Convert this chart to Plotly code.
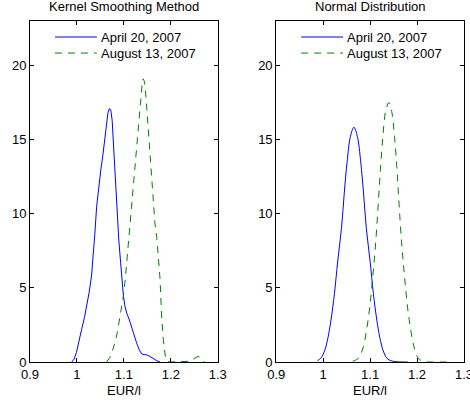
import plotly.graph_objects as go

# Kernel density estimates of the EUR/l price
kern_apr_x = [0.989, 0.994, 0.999, 1.005, 1.010, 1.016, 1.021, 1.026, 1.031, 1.035,
              1.038, 1.042, 1.047, 1.051, 1.055, 1.059, 1.063, 1.066, 1.069, 1.072,
              1.075, 1.079, 1.084, 1.089, 1.093, 1.096, 1.099, 1.102, 1.106, 1.111,
              1.116, 1.121, 1.127, 1.133, 1.138, 1.143, 1.148, 1.153, 1.159, 1.165,
              1.170, 1.177]
kern_apr_y = [0.0, 0.2, 0.65, 1.4, 2.2, 3.0, 3.8, 4.7, 5.8, 7.2,
              8.6, 10.5, 12.1, 13.0, 13.9, 15.0, 16.1, 16.8, 17.1, 17.0,
              16.3, 13.9, 11.2, 8.3, 6.7, 5.4, 4.45, 3.8, 3.3, 2.9,
              2.4, 1.8, 1.3, 0.8, 0.54, 0.5, 0.49, 0.42, 0.3, 0.15,
              0.09, 0.0]

kern_aug_x = [1.063, 1.066, 1.070, 1.075, 1.081, 1.086, 1.091, 1.095, 1.099, 1.103,
              1.106, 1.109, 1.112, 1.116, 1.120, 1.124, 1.127, 1.132, 1.136, 1.139,
              1.141, 1.144, 1.147, 1.152, 1.157, 1.162, 1.166, 1.170, 1.174, 1.177,
              1.180, 1.184, 1.189, 1.193, 1.198, 1.233, 1.240, 1.245, 1.252, 1.258,
              1.263, 1.268, 1.272]
kern_aug_y = [0.0, 0.1, 0.3, 0.7, 1.3, 2.0, 2.9, 3.6, 4.45, 5.6,
              6.7, 7.8, 8.8, 10.2, 11.6, 13.1, 14.3, 16.1, 17.9, 18.8,
              19.1, 18.9, 17.9, 15.6, 13.2, 10.7, 9.4, 8.4, 6.9, 5.6,
              3.3, 1.5, 0.2, 0.02, 0.0, 0.0, 0.05, 0.15, 0.3, 0.38,
              0.3, 0.12, 0.0]

# Fitted normal densities
norm_apr_x = [0.988, 0.995, 1.003, 1.010, 1.017, 1.024, 1.031, 1.039, 1.045, 1.051,
              1.058, 1.0655, 1.073, 1.080, 1.086, 1.092, 1.100, 1.107, 1.114, 1.121,
              1.128, 1.136, 1.145, 1.155, 1.168, 1.180]
norm_apr_y = [0.1, 0.25, 0.75, 1.6, 2.9, 4.6, 6.8, 9.0, 11.4, 13.5,
              15.2, 15.83, 15.2, 13.5, 11.4, 9.0, 6.8, 4.6, 2.9, 1.6,
              0.75, 0.25, 0.08, 0.02, 0.0, 0.0]

norm_aug_x = [1.063, 1.069, 1.076, 1.085, 1.092, 1.099, 1.106, 1.112, 1.118, 1.122,
              1.127, 1.133, 1.140, 1.146, 1.152, 1.157, 1.161, 1.167, 1.173, 1.180,
              1.187, 1.194, 1.202, 1.210, 1.220, 1.232, 1.276]
norm_aug_y = [0.05, 0.12, 0.28, 0.95, 2.07, 3.64, 5.87, 8.1, 11.0, 13.0,
              15.1, 16.9, 17.5, 16.9, 15.2, 13.1, 11.0, 8.1, 5.87, 3.64,
              2.07, 0.95, 0.28, 0.08, 0.01, 0.0, 0.0]

series_names = ["April 20, 2007", "August 13, 2007"]
panel_titles = ["Kernel Smoothing Method", "Normal Distribution"]
x_ticks = [0.9, 1.0, 1.1, 1.2, 1.3]
x_tick_labels = ["0.9", "1", "1.1", "1.2", "1.3"]
y_ticks = [0, 5, 10, 15, 20]
x_label = "EUR/l"

BLUE = "#0000ff"
GREEN = "#008000"
DASH = "7px,6px"
FONT = "Liberation Sans, Arial, sans-serif"

fig = go.Figure()

panels = [
    (kern_apr_x, kern_apr_y, kern_aug_x, kern_aug_y, "x", "y", "linear"),
    (norm_apr_x, norm_apr_y, norm_aug_x, norm_aug_y, "x2", "y2", "spline"),
]
for ax, ay, gx, gy, xa, ya, shape in panels:
    fig.add_trace(go.Scatter(
        x=ax, y=ay, mode="lines", name=series_names[0], xaxis=xa, yaxis=ya,
        showlegend=False, line=dict(color=BLUE, width=1, shape=shape),
    ))
    fig.add_trace(go.Scatter(
        x=gx, y=gy, mode="lines", name=series_names[1], xaxis=xa, yaxis=ya,
        showlegend=False, line=dict(color=GREEN, width=1, dash=DASH, shape=shape),
    ))

axis_common = dict(
    showline=True, linecolor="black", linewidth=1, mirror="ticks",
    ticks="inside", ticklen=4, tickcolor="black", showgrid=False,
    zeroline=False, tickfont=dict(family=FONT, size=13, color="black"),
    ticklabeloverflow="allow",
)

fig.update_layout(
    width=470, height=403,
    margin=dict(l=30, r=5.5, t=21, b=40.5, autoexpand=False),
    paper_bgcolor="white", plot_bgcolor="white",
    font=dict(family=FONT, size=13, color="black"),
    xaxis=dict(domain=[0, 0.4327], range=[0.9, 1.3], tickvals=x_ticks,
               ticktext=x_tick_labels, anchor="y", **axis_common),
    xaxis2=dict(domain=[0.5673, 1], range=[0.9, 1.3], tickvals=x_ticks,
                ticktext=x_tick_labels, anchor="y2", **axis_common),
    yaxis=dict(domain=[0, 1], range=[0, 23], tickvals=y_ticks, anchor="x",
               **axis_common),
    yaxis2=dict(domain=[0, 1], range=[0, 23], tickvals=y_ticks, anchor="x2",
                **axis_common),
    showlegend=False,
)

# Per-panel legend key (sample line + label), title and x-axis label
legend_rows = [(0.953, BLUE, "solid"), (0.906, GREEN, DASH)]
for i, title in enumerate(panel_titles):
    xd = "x domain" if i == 0 else "x2 domain"
    yd = "y domain" if i == 0 else "y2 domain"
    for (ky, color, dash), name in zip(legend_rows, series_names):
        fig.add_shape(type="line", xref=xd, yref=yd, x0=0.133, x1=0.356,
                      y0=ky, y1=ky, line=dict(color=color, width=1, dash=dash))
        fig.add_annotation(text=name, xref=xd, yref=yd, x=0.366, y=ky,
                           xanchor="left", yanchor="middle", showarrow=False,
                           font=dict(family=FONT, size=13))
    fig.add_annotation(text=title, xref=xd, yref=yd, x=0.5, y=1,
                       xanchor="center", yanchor="bottom", yshift=5,
                       showarrow=False, font=dict(family=FONT, size=13))
    fig.add_annotation(text=x_label, xref=xd, yref=yd, x=0.5, y=0,
                       xanchor="center", yanchor="top", yshift=-19,
                       showarrow=False, font=dict(family=FONT, size=13))

fig.write_html("out.html")
